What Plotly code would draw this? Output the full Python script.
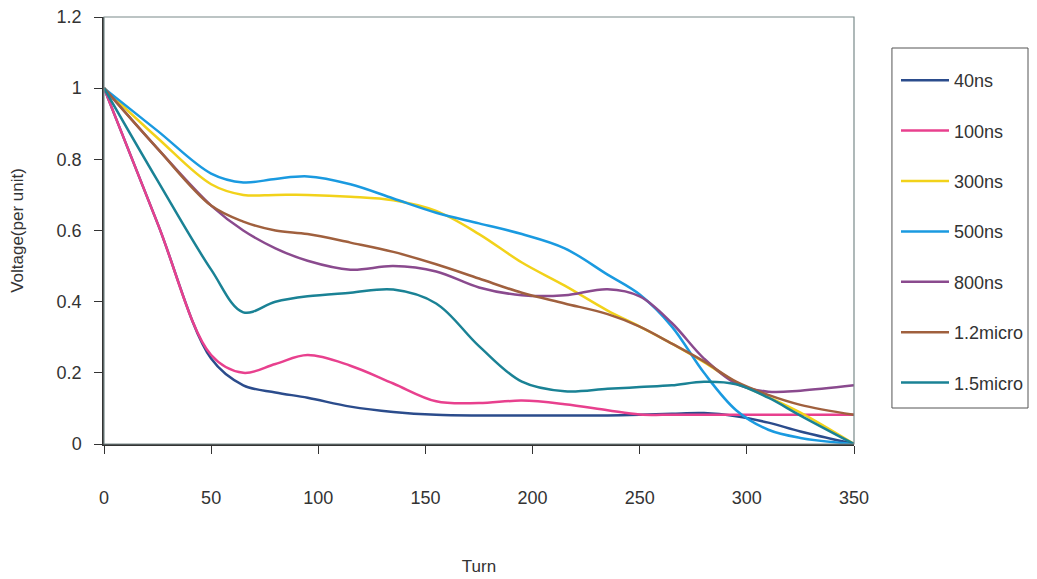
import plotly.graph_objects as go

turn = [0, 25, 50, 65, 80, 95, 115, 135, 155, 175, 195, 215, 235, 250, 265, 280, 295, 310, 325, 350]

v_40ns = [1, 0.62, 0.24, 0.165, 0.145, 0.13, 0.105, 0.09, 0.082, 0.08, 0.08, 0.08, 0.08, 0.082, 0.085, 0.087, 0.078, 0.06, 0.035, 0.0]
v_100ns = [1, 0.62, 0.25, 0.2, 0.225, 0.25, 0.22, 0.17, 0.12, 0.115, 0.122, 0.112, 0.095, 0.083, 0.082, 0.082, 0.082, 0.082, 0.082, 0.082]
v_300ns = [1, 0.86, 0.73, 0.70, 0.70, 0.70, 0.695, 0.685, 0.655, 0.59, 0.51, 0.445, 0.375, 0.33, 0.282, 0.23, 0.173, 0.132, 0.088, 0.0]
v_500ns = [1, 0.88, 0.76, 0.735, 0.745, 0.752, 0.73, 0.69, 0.65, 0.62, 0.59, 0.55, 0.476, 0.42, 0.33, 0.2, 0.095, 0.04, 0.017, 0.0]
v_800ns = [1, 0.83, 0.67, 0.60, 0.55, 0.515, 0.49, 0.5, 0.485, 0.44, 0.418, 0.418, 0.435, 0.415, 0.34, 0.24, 0.17, 0.147, 0.15, 0.165]
v_1_2micro = [1, 0.83, 0.67, 0.625, 0.6, 0.59, 0.566, 0.54, 0.505, 0.465, 0.425, 0.395, 0.365, 0.33, 0.282, 0.232, 0.175, 0.138, 0.11, 0.082]
v_1_5micro = [1, 0.74, 0.49, 0.37, 0.4, 0.415, 0.425, 0.434, 0.395, 0.275, 0.175, 0.148, 0.155, 0.16, 0.165, 0.175, 0.168, 0.13, 0.08, 0.0]

names = ["40ns", "100ns", "300ns", "500ns", "800ns", "1.2micro", "1.5micro"]
series = [v_40ns, v_100ns, v_300ns, v_500ns, v_800ns, v_1_2micro, v_1_5micro]
colors = ["#2B4C8C", "#E8408E", "#F2D21A", "#1A9AE0", "#8A4A8E", "#A0603E", "#1A8295"]

x_ticks = [0, 50, 100, 150, 200, 250, 300, 350]
y_ticks = [0, 0.2, 0.4, 0.6, 0.8, 1, 1.2]

fig = go.Figure()
for i, (name, vals, col) in enumerate(zip(names, series, colors)):
    fig.add_trace(go.Scatter(
        x=turn, y=vals, name=name, mode="lines",
        line=dict(color=col, width=2.5, shape="spline", smoothing=1.0),
        legendgroup=f"g{i}",
    ))

axis_font = dict(family="Liberation Sans, Arial, sans-serif", size=18, color="#333333")
title_font = dict(family="Liberation Sans, Arial, sans-serif", size=17, color="#333333")

# page body has an 8px margin, so the figure is a bit smaller than the window
fig.update_layout(
    width=1029, height=571,
    margin=dict(l=96, r=182, t=9, b=135),
    paper_bgcolor="white", plot_bgcolor="white",
    showlegend=True,
    legend=dict(
        x=1.0546, y=0.8946, xanchor="left", yanchor="top",
        bgcolor="rgba(0,0,0,0)", borderwidth=0,
        font=axis_font,
        tracegroupgap=24, itemwidth=48,
    ),
    xaxis=dict(
        range=[0, 350], tickvals=x_ticks, ticks="outside", ticklen=8,
        tickcolor="#333333", showline=True, linecolor="#333333", linewidth=1.5,
        showgrid=False, zeroline=False, tickfont=axis_font,
        ticklabelstandoff=29, automargin=False, ticklabeloverflow="allow",
        title=dict(text="Turn", font=title_font, standoff=53),
    ),
    yaxis=dict(
        range=[0, 1.2], tickvals=y_ticks, ticktext=["0", "0.2", "0.4", "0.6", "0.8", "1", "1.2"],
        ticks="outside", ticklen=8, tickcolor="#333333",
        showline=True, linecolor="#333333", linewidth=1.5,
        showgrid=False, zeroline=False, tickfont=axis_font,
        ticklabelstandoff=9, automargin=False, ticklabeloverflow="allow",
        title=dict(text="Voltage(per unit)", font=title_font, standoff=29),
    ),
    shapes=[
        dict(type="rect", xref="paper", yref="paper", x0=0, x1=1, y0=0, y1=1,
             line=dict(color="#7A8A8A", width=1.2)),
        dict(type="rect", xref="paper", yref="paper", x0=1.0506, x1=1.232, y0=0.0843, y1=0.9274,
             line=dict(color="#555555", width=1)),
    ],
)

fig.write_html("out.html")
